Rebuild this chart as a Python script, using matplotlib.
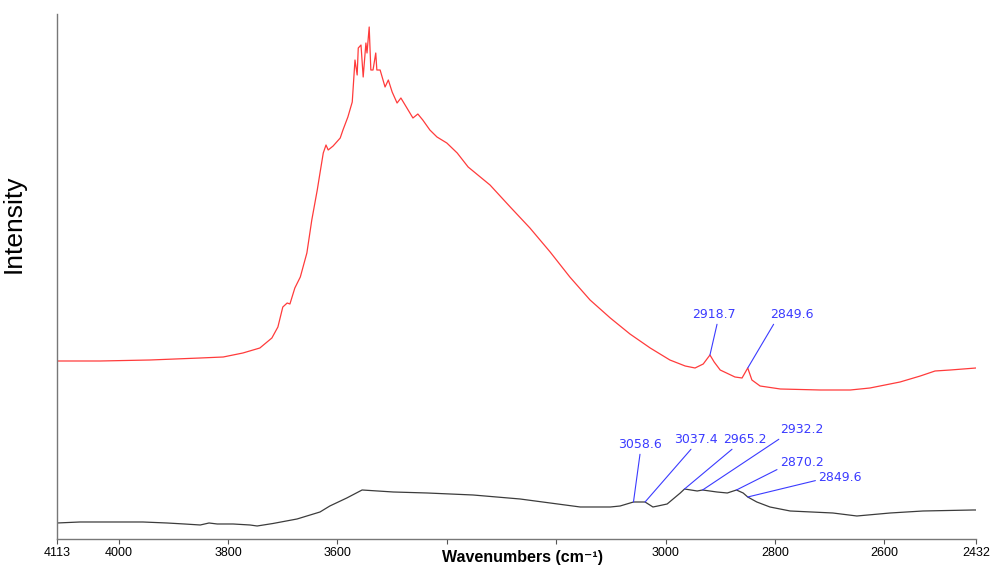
import matplotlib
matplotlib.use('Agg')
import matplotlib.pyplot as plt

# red spectrum (wavenumber, intensity a.u.)
red_wn = [4113, 4034, 3943, 3851, 3809, 3773, 3742, 3720, 3709, 3700, 3692, 3687,
          3678, 3668, 3656, 3647, 3637, 3632, 3626, 3621, 3617, 3608, 3595, 3590,
          3581, 3573, 3568, 3564, 3562, 3557, 3553, 3548, 3546, 3542, 3539, 3535,
          3530, 3528, 3522, 3513, 3507, 3500, 3491, 3484, 3473, 3462, 3453, 3444,
          3431, 3418, 3400, 3381, 3361, 3321, 3284, 3248, 3211, 3175, 3138, 3101,
          3065, 3028, 2992, 2964, 2946, 2931, 2918.7, 2911, 2900, 2873, 2860, 2849.6,
          2842, 2827, 2790, 2717, 2662, 2626, 2571, 2534, 2507, 2479, 2432]
red_int = [178, 178, 179, 181, 182, 186, 191, 201, 212, 232, 236, 235,
           251, 262, 286, 319, 349, 366, 386, 394, 389, 393, 401, 409,
           422, 437, 479, 464, 491, 494, 462, 496, 486, 512, 469, 469,
           486, 469, 469, 452, 459, 447, 436, 441, 431, 421, 425, 419,
           409, 402, 396, 386, 372, 354, 332, 311, 287, 262, 239, 221,
           205, 191, 179, 173, 171, 175, 184, 177, 169, 162, 161, 171,
           159, 153, 150, 149, 149, 151, 157, 163, 168, 169, 171]

# black spectrum
blk_wn = [4113, 4071, 4034, 3956, 3912, 3880, 3851, 3835, 3820, 3791, 3760, 3747,
          3718, 3674, 3632, 3614, 3583, 3555, 3498, 3436, 3352, 3266, 3156, 3101,
          3083, 3058.6, 3037.4, 3023, 3014, 2997, 2973, 2965.2, 2942, 2932.2, 2906,
          2887, 2870.2, 2858, 2849.6, 2833, 2809, 2772, 2694, 2650, 2589, 2529,
          2437, 2432]
blk_int = [16, 17, 17, 17, 16, 15, 14, 16, 15, 15, 14, 13,
           15.5, 20, 27, 33, 41, 49, 47, 46, 44, 40, 32, 32,
           33, 37, 37, 32, 33, 35, 46, 50, 48, 49, 47,
           46, 49, 46, 42, 37, 32, 28, 26, 23, 26, 28,
           29, 29]

# peak labels: (label, peak wn, peak int, text wn, text int, relpos)
red_peaks = [('2918.7', 2918.7, 184, 2911, 224, (0.58, 0)),
             ('2849.6', 2849.6, 171, 2769, 224, (0.12, 0))]
blk_peaks = [('3058.6', 3058.6, 37, 3046, 94, (0.5, 0)),
             ('3037.4', 3037.4, 37, 2945, 99, (0.45, 0)),
             ('2965.2', 2965.2, 50, 2854, 99, (0.27, 0)),
             ('2932.2', 2932.2, 49, 2751, 109, (0.07, 0)),
             ('2870.2', 2870.2, 49, 2751, 76, (0.0, 0.1)),
             ('2849.6', 2849.6, 42, 2681, 61, (0.0, 0.35))]

xticks = [4113, 4000, 3800, 3600, 3400, 3200, 3000, 2800, 2600, 2432]
xtick_labels = ['4113', '4000', '3800', '3600', '', '', '3000', '2800', '2600', '2432']

BLUE = '#3b3bff'

fig = plt.figure(figsize=(9.9, 5.67), dpi=100)
ax = fig.add_axes([0.0576, 0.0494, 0.9283, 0.9259])

ax.plot(red_wn, red_int, color='#ff3b3b', lw=0.9)
ax.plot(blk_wn, blk_int, color='#3c3c3c', lw=0.9)

for lbl, pw, pi, tw, ti, rp in red_peaks + blk_peaks:
    ax.annotate(lbl, xy=(pw, pi), xytext=(tw, ti), textcoords='data',
                ha='center', va='center', color=BLUE, fontsize=9,
                family='DejaVu Sans',
                arrowprops=dict(arrowstyle='-', color=BLUE, lw=0.8,
                                shrinkA=0, shrinkB=0, relpos=rp))

ax.set_xlim(4113, 2432)
ax.set_ylim(0, 525)
ax.set_xticks(xticks)
ax.set_xticklabels(xtick_labels, family='Liberation Sans', fontsize=9)
ax.set_yticks([])
ax.tick_params(axis='x', length=3.5, width=0.8, color='#555555', pad=2)
for s in ['top', 'right']:
    ax.spines[s].set_visible(False)
for s in ['left', 'bottom']:
    ax.spines[s].set_color('#777777')
    ax.spines[s].set_linewidth(1.0)

ax.set_xlabel('Wavenumbers (cm⁻¹)', family=['Liberation Sans', 'DejaVu Sans'],
              fontsize=11.5, fontweight='bold')
ax.xaxis.set_label_coords(0.5065, -0.021)
ax.set_ylabel('Intensity', family='Liberation Sans', fontsize=19)
ax.yaxis.set_label_coords(-0.034, 0.60)

fig.savefig('out.png', dpi=100)
